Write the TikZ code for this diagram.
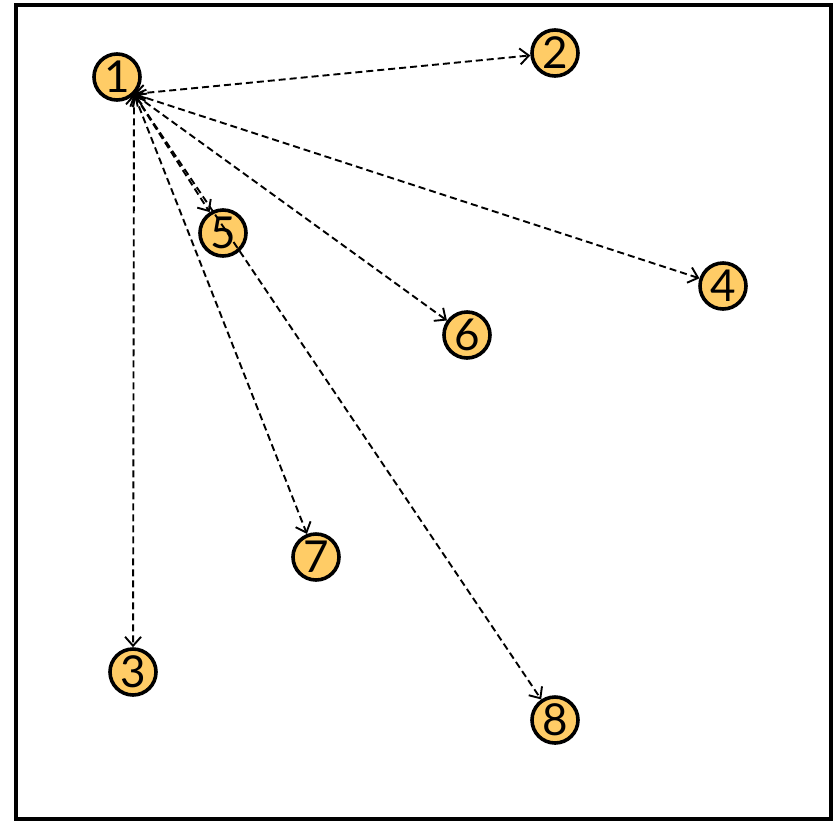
\documentclass[tikz,border=0pt]{standalone}
\usepackage{fontspec}
\setmainfont{Lato}
\usetikzlibrary{arrows.meta}
\definecolor{nodefill}{RGB}{255,204,102}
\begin{document}
\begin{tikzpicture}[x=1pt,y=-1pt,
  vtx/.style={circle,draw=black,line width=3.6pt,fill=nodefill,minimum size=46pt,inner sep=0pt,font=\fontsize{44}{44}\selectfont},
  link/.style={dash pattern=on 7pt off 4pt,line width=1.9pt,{Straight Barb[length=9pt,width=16pt]}-{Straight Barb[length=9pt,width=16pt]}}]
\useasboundingbox (0,0) rectangle (837,820);
\draw[line width=4pt] (15.5,4.5) rectangle (830.5,818.5);
\node[vtx] (n1) at (117,77) {1};
\node[vtx] (n2) at (555,53) {2};
\node[vtx] (n3) at (133,672) {3};
\node[vtx] (n4) at (723,286) {4};
\node[vtx] (n5) at (223,233) {5};
\node[vtx] (n6) at (467,335) {6};
\node[vtx] (n7) at (316,557) {7};
\node[vtx] (n8) at (555,720) {8};
\coordinate (c1) at (134,94);
\foreach \t in {n2,n3,n4,n5,n6,n7,n8}
  \draw[link] (c1) -- (\t);
\end{tikzpicture}
\end{document}
